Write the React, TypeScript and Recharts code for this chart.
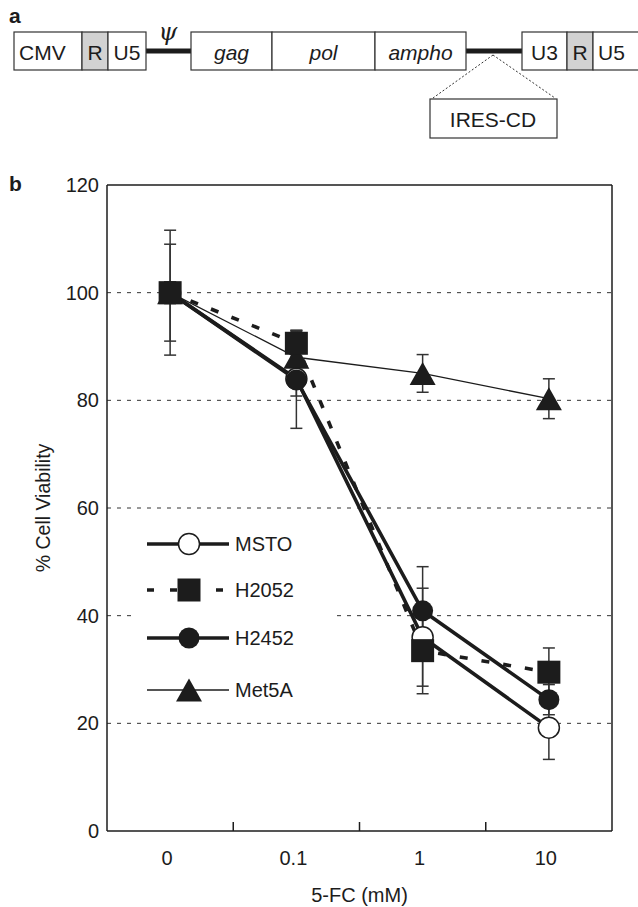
import React from 'react';
import {
  LineChart,
  Line,
  XAxis,
  YAxis,
  CartesianGrid,
  ReferenceLine,
  ErrorBar,
} from 'recharts';

// 5-FC doses (category labels) and % viability per cell line
const doses = ['0', '0.1', '1', '10'];
const msto = [100, 84, 36, 19.2];
const mstoErr = [11.6, 3.2, 9.1, 5.9];
const h2052 = [100, 90.6, 33.5, 29.5];
const h2052Err = [2, 2.4, 8, 4.5];
const h2452 = [100, 83.8, 40.9, 24.4];
const h2452Err = [9, 9, 8.2, 2.8];
const met5a = [100, 88, 85, 80.3];
const met5aErr = [2, 5, 3.5, 3.7];
const yTicks = [0, 20, 40, 60, 80, 100, 120];
const gridValues = [20, 40, 60, 80, 100];

const FONT = '"Liberation Sans", Arial, Helvetica, sans-serif';
const INK = '#1c1c1c';

const data = doses.map((d, i) => ({
  pos: i + 0.5,
  dose: d,
  msto: msto[i],
  mstoErr: mstoErr[i],
  h2052: h2052[i],
  h2052Err: h2052Err[i],
  h2452: h2452[i],
  h2452Err: h2452Err[i],
  met5a: met5a[i],
  met5aErr: met5aErr[i],
}));

// label positions at band centres, tick marks at band boundaries
const xTicks = [0.5, 1, 1.5, 2, 2.5, 3, 3.5];

type Kind = 'openCircle' | 'circle' | 'square' | 'triangle';

const series: { key: string; name: string; width: number; dash?: string; marker: Kind }[] = [
  { key: 'met5a', name: 'Met5A', width: 1.3, marker: 'triangle' },
  { key: 'msto', name: 'MSTO', width: 3.6, marker: 'openCircle' },
  { key: 'h2452', name: 'H2452', width: 3.6, marker: 'circle' },
  { key: 'h2052', name: 'H2052', width: 3.6, dash: '8 14', marker: 'square' },
];
const legendOrder = ['MSTO', 'H2052', 'H2452', 'Met5A'];

const Marker = ({ kind, cx, cy }: { kind: Kind; cx: number; cy: number }) => {
  if (kind === 'openCircle')
    return <circle cx={cx} cy={cy} r={10.5} fill="#fff" stroke={INK} strokeWidth={1.5} />;
  if (kind === 'circle') return <circle cx={cx} cy={cy} r={10.5} fill={INK} />;
  if (kind === 'square')
    return <rect x={cx - 11.5} y={cy - 11.5} width={23} height={23} fill={INK} />;
  return (
    <polygon
      points={`${cx},${cy - 11.5} ${cx - 13},${cy + 11.5} ${cx + 13},${cy + 11.5}`}
      fill={INK}
    />
  );
};

const DoseTick = (props: any) => {
  const { x, y, payload } = props;
  const v = payload.value as number;
  if (Number.isInteger(v)) {
    return <line x1={x} x2={x} y1={y} y2={y - 9} stroke={INK} strokeWidth={1.5} />;
  }
  return (
    <text x={x - 3} y={y + 34} textAnchor="middle" fontSize={20} fontFamily={FONT} fill={INK}>
      {doses[Math.round(v - 0.5)]}
    </text>
  );
};

const YTitle = (props: any) => {
  const { viewBox } = props;
  const cy = viewBox.y + viewBox.height / 2;
  return (
    <text
      x={43}
      y={cy}
      transform={`rotate(-90 43 ${cy})`}
      textAnchor="middle"
      dominantBaseline="central"
      fontSize={19.5}
      fontFamily={FONT}
      fill={INK}
    >
      % Cell Viability
    </text>
  );
};

const XTitle = (props: any) => {
  const { viewBox } = props;
  return (
    <text
      x={viewBox.x + viewBox.width / 2}
      y={viewBox.y + 71}
      textAnchor="middle"
      fontSize={20}
      fontFamily={FONT}
      fill={INK}
    >
      5-FC (mM)
    </text>
  );
};

const ChartLegend = () => {
  const rowY = [22, 68, 116, 168];
  return (
    <svg
      width={201}
      height={182}
      style={{ position: 'absolute', left: 132, top: 522, background: '#fff' }}
    >
      {legendOrder.map((name, i) => {
        const s = series.find((d) => d.name === name)!;
        const y = rowY[i];
        return (
          <g key={name}>
            <line
              x1={15}
              x2={97}
              y1={y}
              y2={y}
              stroke={INK}
              strokeWidth={s.width}
              strokeDasharray={s.dash ? '7 16' : undefined}
            />
            <Marker kind={s.marker} cx={57} cy={y} />
            <text x={103} y={y} dominantBaseline="central" fontSize={20} fontFamily={FONT} fill={INK}>
              {name}
            </text>
          </g>
        );
      })}
    </svg>
  );
};

// panel a: retroviral vector schematic
const boxes = [
  { label: 'CMV', x0: 14, x1: 82, align: 'start' },
  { label: 'R', x0: 82, x1: 108, grey: true },
  { label: 'U5', x0: 108, x1: 146 },
  { label: 'gag', x0: 191, x1: 272, italic: true },
  { label: 'pol', x0: 272, x1: 375, italic: true },
  { label: 'ampho', x0: 375, x1: 466, italic: true },
  { label: 'U3', x0: 522, x1: 567 },
  { label: 'R', x0: 567, x1: 593, grey: true },
  { label: 'U5', x0: 593, x1: 645, align: 'start' },
];

const Schematic = () => (
  <svg width={638} height={160} style={{ position: 'absolute', left: 0, top: 0 }}>
    <text x={9} y={23} fontSize={21} fontWeight="bold" fontFamily={FONT} fill={INK}>
      a
    </text>
    <line x1={146} x2={191} y1={51} y2={51} stroke={INK} strokeWidth={5} />
    <line x1={466} x2={522} y1={51} y2={51} stroke={INK} strokeWidth={5} />
    <text x={168} y={40} textAnchor="middle" fontSize={24} fontStyle="italic" fontFamily='"DejaVu Serif", "Liberation Serif", serif' fill={INK}>
      ψ
    </text>
    {boxes.map((b, i) => (
      <g key={i}>
        <rect
          x={b.x0}
          y={32}
          width={b.x1 - b.x0}
          height={38}
          fill={b.grey ? '#d2d2d2' : '#fff'}
          stroke="#333"
          strokeWidth={1.2}
        />
        <text
          x={b.align === 'start' ? b.x0 + 5 : (b.x0 + b.x1) / 2}
          y={52}
          textAnchor={b.align === 'start' ? 'start' : 'middle'}
          dominantBaseline="central"
          fontSize={21}
          fontStyle={b.italic ? 'italic' : 'normal'}
          fontFamily={FONT}
          fill={INK}
        >
          {b.label}
        </text>
      </g>
    ))}
    <line x1={493} y1={55} x2={433} y2={98} stroke="#333" strokeWidth={1} strokeDasharray="2 2" />
    <line x1={493} y1={55} x2={555} y2={98} stroke="#333" strokeWidth={1} strokeDasharray="2 2" />
    <rect x={430} y={99} width={127} height={39} fill="#fff" stroke="#333" strokeWidth={1.2} />
    <text x={493} y={119} textAnchor="middle" dominantBaseline="central" fontSize={21} fontFamily={FONT} fill={INK}>
      IRES-CD
    </text>
  </svg>
);

export default function App() {
  return (
    <div style={{ position: 'absolute', left: 0, top: 0, width: 638, height: 907, background: '#fff' }}>
      <LineChart
        width={638}
        height={907}
        data={data}
        margin={{ top: 185, right: 26, bottom: 0, left: 0 }}
      >
        <CartesianGrid
          vertical={false}
          horizontalValues={gridValues}
          stroke="#333"
          strokeWidth={1}
          strokeDasharray="4 6"
        />
        <XAxis
          type="number"
          dataKey="pos"
          domain={[0, 4]}
          ticks={xTicks}
          interval={0}
          tickSize={0}
          tickMargin={0}
          tickLine={false}
          tick={<DoseTick />}
          axisLine={{ stroke: INK, strokeWidth: 1.5 }}
          height={76}
          label={<XTitle />}
        />
        <YAxis
          type="number"
          domain={[0, 120]}
          ticks={yTicks}
          interval={0}
          width={107}
          tickSize={0}
          tickMargin={8}
          tickLine={false}
          axisLine={{ stroke: INK, strokeWidth: 1.5 }}
          tick={{ fontSize: 20, fill: INK, fontFamily: FONT }}
          label={<YTitle />}
        />
        <ReferenceLine y={120} stroke={INK} strokeWidth={1.5} />
        <ReferenceLine x={4} stroke={INK} strokeWidth={1.5} />
        {series.map((s) => (
          <Line
            key={s.key}
            type="linear"
            dataKey={s.key}
            name={s.name}
            stroke={INK}
            strokeWidth={s.width}
            strokeDasharray={s.dash}
            isAnimationActive={false}
            dot={(p: any) => <Marker key={`${s.key}-${p.index}`} kind={s.marker} cx={p.cx} cy={p.cy} />}
            activeDot={false}
          >
            <ErrorBar
              dataKey={`${s.key}Err`}
              direction="y"
              width={6}
              stroke="#333"
              strokeWidth={1.5}
              isAnimationActive={false}
            />
          </Line>
        ))}
      </LineChart>
      <ChartLegend />
      <Schematic />
      <div
        style={{
          position: 'absolute',
          left: 9,
          top: 173,
          fontSize: 21,
          fontWeight: 'bold',
          fontFamily: FONT,
          color: INK,
          lineHeight: '21px',
        }}
      >
        b
      </div>
    </div>
  );
}
